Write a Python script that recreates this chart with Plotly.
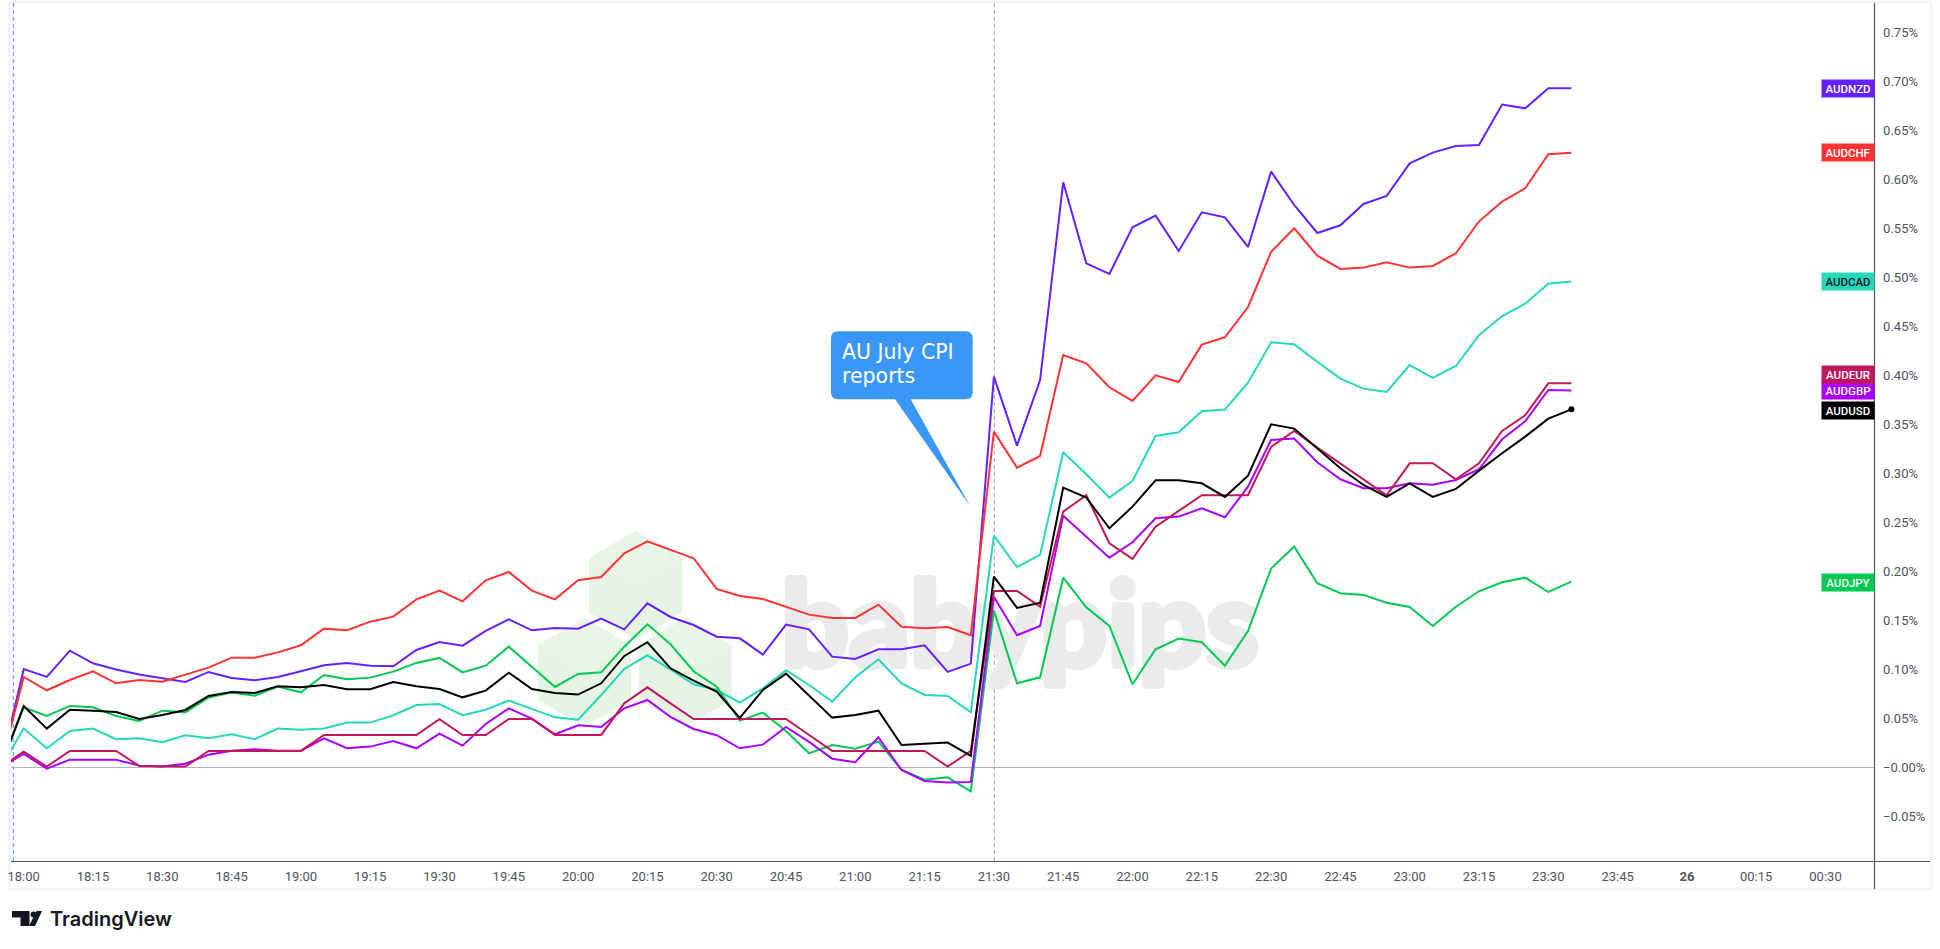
import plotly.graph_objects as go
import pandas as pd

W, H = 1940, 949

# percent change; first entry is the 17:55 bar, then one value per 5 minutes from 18:00 to 23:35
AUDNZD = [0.0,
 .1003,.0922,.1190,.1061,.0997,.0946,.0912,.0871,.0973,.0912,.0888,.0922,.0980,.1041,.1065,.1037,.1031,.1197,.1279,.1241,.1391,
 .1510,.1398,.1422,.1415,.1517,.1408,.1673,.1534,.1452,.1333,.1316,.1150,.1456,.1408,.1129,.1105,.1204,.1204,.1245,.0973,.1058,
 .3986,.3282,.3952,.5969,.5143,.5034,.5510,.5629,.5269,.5663,.5612,.5310,.6078,.5738,.5452,.5531,.5748,.5830,.6163,.6272,
 .6340,.6350,.6762,.6724,.6929,.6929]
AUDCHF = [0.0,
 .0922,.0786,.0891,.0980,.0857,.0891,.0874,.0946,.1017,.1119,.1119,.1173,.1245,.1415,.1398,.1486,.1537,.1714,.1803,.1694,.1908,
 .1993,.1803,.1714,.1908,.1942,.2184,.2306,.2221,.2133,.1820,.1748,.1718,.1639,.1558,.1524,.1524,.1660,.1435,.1418,.1432,.1347,
 .3425,.3058,.3177,.4207,.4122,.3878,.3738,.4000,.3932,.4313,.4388,.4697,.5259,.5500,.5221,.5085,.5099,.5153,.5099,.5116,
 .5245,.5571,.5772,.5908,.6255,.6272]
AUDCAD = [0.0,
 .0395,.0194,.0371,.0395,.0286,.0296,.0255,.0327,.0296,.0337,.0286,.0395,.0384,.0395,.0456,.0456,.0531,.0636,.0646,.0531,.0588,
 .0680,.0595,.0510,.0486,.0738,.1003,.1143,.1000,.0847,.0789,.0660,.0806,.0990,.0840,.0670,.0918,.1102,.0857,.0738,.0728,.0561,
 .2364,.2044,.2167,.3214,.2990,.2752,.2922,.3381,.3418,.3633,.3650,.3925,.4337,.4316,.4139,.3966,.3864,.3830,.4105,.3973,
 .4095,.4410,.4605,.4731,.4935,.4956]
AUDJPY = [0.0,
 .0612,.0524,.0626,.0612,.0524,.0473,.0578,.0561,.0711,.0762,.0731,.0823,.0765,.0942,.0898,.0915,.0976,.1065,.1116,.0969,.1037,
 .1231,.1027,.0820,.0952,.0969,.1231,.1459,.1255,.0980,.0823,.0476,.0558,.0371,.0143,.0228,.0190,.0262,-.0027,-.0126,-.0102,-.0245,
 .1599,.0857,.0918,.1935,.1633,.1442,.0847,.1204,.1313,.1276,.1037,.1391,.2027,.2252,.1878,.1776,.1759,.1680,.1636,.1442,
 .1639,.1796,.1888,.1935,.1789,.1895]
AUDGBP = [0.0,
 .0136,-.0014,.0078,.0078,.0078,.0017,.0007,.0037,.0129,.0170,.0184,.0170,.0170,.0296,.0194,.0211,.0269,.0194,.0344,.0221,.0442,
 .0602,.0497,.0337,.0429,.0412,.0602,.0687,.0514,.0391,.0327,.0194,.0231,.0412,.0259,.0088,.0051,.0306,-.0027,-.0139,-.0156,-.0150,
 .1741,.1347,.1442,.2568,.2354,.2139,.2296,.2541,.2558,.2643,.2551,.2864,.3340,.3354,.3112,.2939,.2847,.2847,.2898,.2884,
 .2932,.3041,.3347,.3531,.3850,.3844]
AUDEUR = [0.0,
 .0160,.0007,.0167,.0167,.0167,.0014,.0007,.0007,.0167,.0167,.0167,.0167,.0167,.0330,.0330,.0330,.0330,.0330,.0490,.0330,.0330,
 .0493,.0493,.0330,.0330,.0330,.0653,.0816,.0653,.0493,.0493,.0493,.0493,.0493,.0330,.0167,.0167,.0167,.0167,.0167,.0007,.0167,
 .1799,.1799,.1639,.2609,.2776,.2286,.2126,.2456,.2616,.2776,.2776,.2776,.3269,.3432,.3262,.3102,.2939,.2776,.3102,.3102,
 .2939,.3102,.3432,.3592,.3918,.3918]
AUDUSD = [0.0,
 .0626,.0395,.0588,.0578,.0565,.0493,.0534,.0585,.0728,.0769,.0759,.0827,.0816,.0840,.0796,.0796,.0871,.0827,.0799,.0714,.0782,
 .0966,.0799,.0759,.0742,.0857,.1136,.1276,.1010,.0884,.0772,.0503,.0789,.0956,.0731,.0507,.0534,.0578,.0228,.0242,.0252,.0116,
 .1946,.1626,.1680,.2854,.2752,.2439,.2660,.2929,.2929,.2898,.2759,.2976,.3500,.3456,.3255,.3051,.2881,.2759,.2898,.2759,
 .2840,.3027,.3204,.3374,.3558,.3653]

SERIES_NAMES = ["AUDNZD", "AUDCHF", "AUDCAD", "AUDJPY", "AUDGBP", "AUDEUR", "AUDUSD"]
SERIES_VALUES = [AUDNZD, AUDCHF, AUDCAD, AUDJPY, AUDGBP, AUDEUR, AUDUSD]
SERIES_COLORS = ["#6420ff", "#ff3333", "#26d7b9", "#00c853", "#aa00ff", "#c2185b", "#000000"]
LABEL_TEXT_COLORS = ["#ffffff", "#ffffff", "#131722", "#ffffff", "#ffffff", "#ffffff", "#ffffff"]
LABEL_VALUES = [0.6929, 0.6272, 0.4956, 0.1885, 0.3844, 0.4005, 0.3645]

Y_TICK_VALUES = [.75, .70, .65, .60, .55, .50, .45, .40, .35, .30, .25, .20, .15, .10, .05, 0, -.05]
Y_TICK_LABELS = ["0.75%", "0.70%", "0.65%", "0.60%", "0.55%", "0.50%", "0.45%", "0.40%", "0.35%", "0.30%",
                 "0.25%", "0.20%", "0.15%", "0.10%", "0.05%", "\u22120.00%", "\u22120.05%"]
X_TICK_TIMES = ["2025-08-25 18:00", "2025-08-25 18:15", "2025-08-25 18:30", "2025-08-25 18:45", "2025-08-25 19:00",
                "2025-08-25 19:15", "2025-08-25 19:30", "2025-08-25 19:45", "2025-08-25 20:00", "2025-08-25 20:15",
                "2025-08-25 20:30", "2025-08-25 20:45", "2025-08-25 21:00", "2025-08-25 21:15", "2025-08-25 21:30",
                "2025-08-25 21:45", "2025-08-25 22:00", "2025-08-25 22:15", "2025-08-25 22:30", "2025-08-25 22:45",
                "2025-08-25 23:00", "2025-08-25 23:15", "2025-08-25 23:30", "2025-08-25 23:45", "2025-08-26 00:00",
                "2025-08-26 00:15", "2025-08-26 00:30"]
X_TICK_LABELS = ["18:00", "18:15", "18:30", "18:45", "19:00", "19:15", "19:30", "19:45", "20:00", "20:15", "20:30",
                 "20:45", "21:00", "21:15", "21:30", "21:45", "22:00", "22:15", "22:30", "22:45", "23:00", "23:15",
                 "23:30", "23:45", "<b>26</b>", "00:15", "00:30"]

TIMES = pd.date_range("2025-08-25 17:55", periods=len(AUDNZD), freq="5min")
T0 = pd.Timestamp("2025-08-25 18:00")


# pixel layout of the picture
LEFT, RIGHT, TOP, BOTTOM = 11.0, 1874.5, 3.0, 861.5
X_18H, BAR = 23.7, 23.1
Y_ZERO, PER_PCT = 767.3, 980.0


def px2t(x):
    return T0 + pd.Timedelta(minutes=(x - X_18H) / BAR * 5)


def py2v(y):
    return (Y_ZERO - y) / PER_PCT


def fx(x):
    return x / W


def fy(y):
    return 1 - y / H


def poly(points, fill, layer="below"):
    path = "M " + " L ".join(f"{fx(x):.5f} {fy(y):.5f}" for x, y in points) + " Z"
    return dict(type="path", xref="paper", yref="paper", path=path, fillcolor=fill, line_width=0, layer=layer)


def line(x0, y0, x1, y1, color, width=1, dash="solid", layer="below"):
    return dict(type="line", xref="paper", yref="paper", x0=fx(x0), y0=fy(y0), x1=fx(x1), y1=fy(y1),
                line=dict(color=color, width=width, dash=dash), layer=layer)


def hexagon(left, top, w=93, h=109):
    cx, dy = left + w / 2, h / 4
    return [
        poly([(cx, top), (left + w, top + dy), (left + w, top + h - dy), (cx, top + h), (left, top + h - dy), (left, top + dy)], "#e6f4e3"),
        poly([(cx, top), (left + w, top + dy), (cx, top + 2 * dy), (left, top + dy)], "#e9f6e7"),
    ]


fig = go.Figure()

# watermark under the lines; the shadow thickens the strokes
WM = "#ebebeb"
wm_shadow = ", ".join(f"{a}px {b}px 0 {WM}" for a, b in
                      [(3, 0), (-3, 0), (0, 3), (0, -3), (2, 2), (-2, 2), (2, -2), (-2, -2)])
fig.add_trace(go.Scatter(x=[px2t(1020)], y=[py2v(636)], mode="text", text=["babypips"], hoverinfo="skip",
                         textfont=dict(family="Lato", size=119, color=WM, weight=900, shadow=wm_shadow), showlegend=False))

for name, vals, col in zip(SERIES_NAMES, SERIES_VALUES, SERIES_COLORS):
    assert len(vals) == len(AUDNZD), name
    fig.add_trace(go.Scatter(x=TIMES, y=vals, mode="lines", name=name, line=dict(color=col, width=2), showlegend=False))

fig.add_trace(go.Scatter(x=[TIMES[-1]], y=[AUDUSD[-1]], mode="markers", marker=dict(color="#000000", size=6), showlegend=False))

shapes = []
shapes.append(dict(type="rect", xref="paper", yref="paper", x0=fx(9.5), x1=fx(1931), y0=fy(889), y1=fy(2),
                   line=dict(color="#f3f4f6", width=2.5), fillcolor="rgba(0,0,0,0)", layer="below"))
shapes += hexagon(589, 531) + hexagon(538, 618) + hexagon(639, 618)
shapes.append(line(13.3, TOP, 13.3, BOTTOM, "#5b8def", 1, "4px,3px"))
shapes.append(line(994.3, TOP, 994.3, BOTTOM, "#8a8a8a", 0.8, "4px,3px"))
shapes.append(line(RIGHT, TOP, RIGHT, 889, "#50535e", 1.2, layer="above"))
shapes.append(line(LEFT, BOTTOM, 1930, BOTTOM, "#50535e", 1.2, layer="above"))

# callout
x0, x1, y0, y1, r = 831, 972.7, 331.3, 399.3, 7
bubble = (f"M {fx(x0+r):.5f} {fy(y0):.5f} L {fx(x1-r):.5f} {fy(y0):.5f} Q {fx(x1):.5f} {fy(y0):.5f} {fx(x1):.5f} {fy(y0+r):.5f} "
          f"L {fx(x1):.5f} {fy(y1-r):.5f} Q {fx(x1):.5f} {fy(y1):.5f} {fx(x1-r):.5f} {fy(y1):.5f} "
          f"L {fx(910.7):.5f} {fy(y1):.5f} L {fx(970):.5f} {fy(506):.5f} L {fx(895):.5f} {fy(y1):.5f} "
          f"L {fx(x0+r):.5f} {fy(y1):.5f} Q {fx(x0):.5f} {fy(y1):.5f} {fx(x0):.5f} {fy(y1-r):.5f} "
          f"L {fx(x0):.5f} {fy(y0+r):.5f} Q {fx(x0):.5f} {fy(y0):.5f} {fx(x0+r):.5f} {fy(y0):.5f} Z")
shapes.append(dict(type="path", xref="paper", yref="paper", path=bubble, fillcolor="#3a97f7", line_width=0, layer="above"))

# TradingView logo glyph
shapes.append(poly([(12, 911), (29.5, 911), (29.5, 926), (20.5, 926), (20.5, 917.5), (12, 917.5)], "#131722", "above"))
shapes.append(dict(type="circle", xref="paper", yref="paper", x0=fx(30.5), x1=fx(36.5), y0=fy(917.5), y1=fy(911.5),
                   fillcolor="#131722", line_width=0, layer="above"))
shapes.append(poly([(29, 926), (36.5, 911), (42, 911), (35, 926)], "#131722", "above"))

annotations = []
for name, v, col, tc in zip(SERIES_NAMES, LABEL_VALUES, SERIES_COLORS, LABEL_TEXT_COLORS):
    annotations.append(dict(xref="paper", yref="y", x=fx(RIGHT), y=v, xanchor="right", yanchor="middle", text=name,
                            showarrow=False, bgcolor=col, width=52, height=17, borderpad=0, align="center", valign="middle",
                            font=dict(family="Roboto", size=11.5, color=tc, weight=500)))
for txt, yy in (("AU July CPI", 352), ("reports", 376.5)):
    annotations.append(dict(xref="paper", yref="paper", x=fx(839.5), y=fy(yy), xanchor="left", yanchor="middle", text=txt,
                            showarrow=False, font=dict(family="DejaVu Sans", size=20.5, color="#ffffff")))
annotations.append(dict(xref="paper", yref="paper", x=fx(48), y=fy(918.5), xanchor="left", yanchor="middle", text="TradingView",
                        showarrow=False, font=dict(family="Inter", size=20, color="#131722", weight=600)))

fig.update_layout(
    width=W, height=H, margin=dict(l=0, r=0, t=0, b=0, pad=0, autoexpand=False), autosize=False,
    paper_bgcolor="#ffffff", plot_bgcolor="#ffffff", showlegend=False,
    shapes=shapes, annotations=annotations,
    xaxis=dict(domain=[fx(LEFT), fx(RIGHT)], range=[px2t(LEFT), px2t(RIGHT)], showgrid=False, zeroline=False, showline=False,
               tickmode="array", tickvals=X_TICK_TIMES, ticktext=X_TICK_LABELS, ticks="outside", ticklen=3, tickcolor="rgba(0,0,0,0)",
               tickangle=0, tickfont=dict(family="Roboto", size=13, color="#50535e"), fixedrange=True),
    yaxis=dict(domain=[fy(BOTTOM), fy(TOP)], range=[py2v(BOTTOM), py2v(TOP)], side="right", showgrid=False,
               zeroline=True, zerolinecolor="#b2b0c6", zerolinewidth=1, showline=False,
               tickmode="array", tickvals=Y_TICK_VALUES, ticktext=Y_TICK_LABELS, ticks="outside", ticklen=5, tickcolor="rgba(0,0,0,0)",
               tickfont=dict(family="Roboto", size=13, color="#50535e"), fixedrange=True),
)

fig.write_html("out.html", post_script="document.body.style.margin='0';document.body.style.overflow='hidden';",
               config=dict(displayModeBar=False))
